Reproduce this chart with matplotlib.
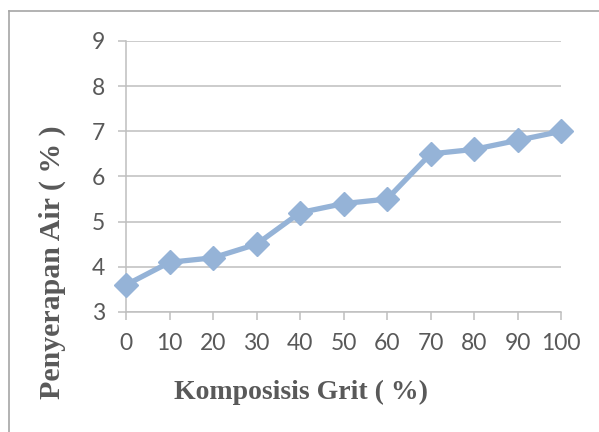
import matplotlib
matplotlib.use("Agg")
import matplotlib.pyplot as plt
from matplotlib.lines import Line2D

komposisi = [0, 10, 20, 30, 40, 50, 60, 70, 80, 90, 100]
penyerapan = [3.6, 4.1, 4.2, 4.5, 5.2, 5.4, 5.5, 6.5, 6.6, 6.8, 7.0]
y_ticks = [3, 4, 5, 6, 7, 8, 9]

grid_c = "#BFBFBF"
text_c = "#595959"
line_c = "#95B3D7"

fig = plt.figure(figsize=(5.99, 4.32), dpi=100)
ax = fig.add_axes([0.2104, 0.2778, 0.7262, 0.6273])

x = list(range(len(komposisi)))
ax.plot(x, penyerapan, "-", color=line_c, lw=3.8, marker="D", ms=12.5,
        mfc=line_c, mec=line_c, clip_on=False, zorder=3)

ax.set_xlim(0, len(komposisi) - 1)
ax.set_ylim(3, 9)
ax.set_yticks(y_ticks)
ax.set_xticks(x)
ax.set_xticklabels([str(k) for k in komposisi])

ax.grid(axis="y", color=grid_c, lw=1.1)
ax.set_axisbelow(True)
for s in ["top", "right"]:
    ax.spines[s].set_visible(False)
for s in ["left", "bottom"]:
    ax.spines[s].set_color(grid_c)
    ax.spines[s].set_linewidth(1.1)
ax.tick_params(axis="both", colors=grid_c, length=6, width=1.1, labelcolor=text_c,
               labelsize=16.5)
for lab in ax.get_xticklabels() + ax.get_yticklabels():
    lab.set_fontfamily("Lato")
ax.tick_params(axis="y", pad=9)
ax.tick_params(axis="x", pad=9)

ax.set_xlabel("Komposisis Grit ( %)", fontfamily="Liberation Serif", fontweight="bold",
              fontsize=20, color=text_c, va="center")
ax.xaxis.set_label_coords(0.402, -0.295)
ax.set_ylabel("Penyerapan Air ( % )", fontfamily="Liberation Serif", fontweight="bold",
              fontsize=21.5, color=text_c, va="center")
ax.yaxis.set_label_coords(-0.17, 0.185)

# chart frame (left and top edges visible)
fig.add_artist(Line2D([9 / 599, 9 / 599], [0, 1 - 11 / 432], color="#A6A6A6", lw=1.2))
fig.add_artist(Line2D([9 / 599, 1], [1 - 11 / 432, 1 - 11 / 432], color="#A6A6A6", lw=1.2))

fig.savefig("out.png", dpi=100)
